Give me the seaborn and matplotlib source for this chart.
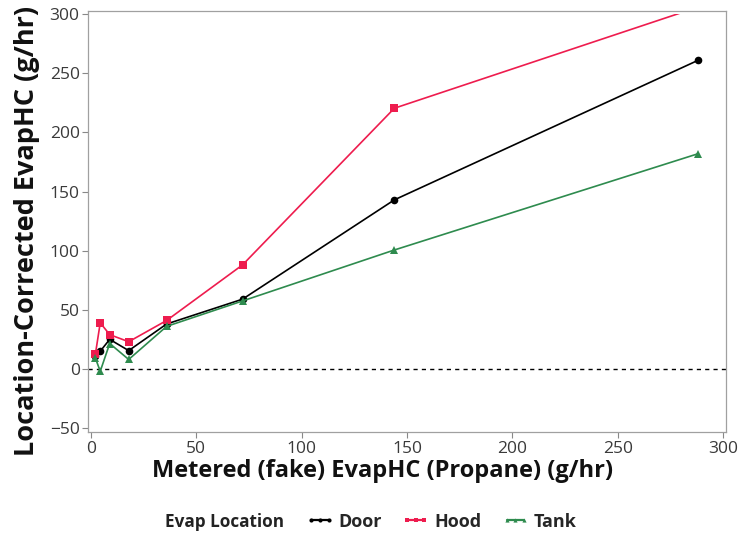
import numpy as np
import pandas as pd
import matplotlib
matplotlib.use("Agg")
import matplotlib.pyplot as plt
from matplotlib.patches import Rectangle
from matplotlib.lines import Line2D
import seaborn as sns

# Metered propane rate (g/hr) and location-corrected EvapHC readings (g/hr)
metered = [2.25, 4.5, 9, 18, 36, 72, 144, 288]
door = [11, 15, 25, 15.5, 38, 59, 143, 261]
hood = [13, 39, 29, 23, 41, 88, 220.5, 306]
tank = [9, -2, 21.5, 8, 36, 57.5, 100.6, 182]
locations = ["Door", "Hood", "Tank"]

x_ticks = [0, 50, 100, 150, 200, 250, 300]
y_ticks = [-50, 0, 50, 100, 150, 200, 250, 300]

df = pd.DataFrame({
    "Metered": metered * 3,
    "EvapHC": door + hood + tank,
    "Evap Location": sum([[loc] * len(metered) for loc in locations], []),
})

sns.set_theme(style="white")
plt.rcParams["font.family"] = ["Open Sans", "DejaVu Sans"]

palette = {"Door": "#000000", "Hood": "#EE1C4E", "Tank": "#2E8B4E"}
markers = {"Door": "o", "Hood": "s", "Tank": "^"}

fig = plt.figure(figsize=(7.4, 5.34), dpi=100)
ax = fig.add_axes([88 / 740, 1 - 432.3 / 534, (726 - 88) / 740, (432.3 - 10.7) / 534])

sns.lineplot(data=df, x="Metered", y="EvapHC", hue="Evap Location",
             style="Evap Location", markers=markers, dashes=False,
             palette=palette, hue_order=locations, style_order=locations,
             linewidth=1.2, markersize=5.5, markeredgewidth=0,
             legend=False, ax=ax)

ax.axhline(0, color="black", linestyle=(0, (3, 3)), linewidth=1.0, zorder=1)

ax.set_xlim(-1.3, 301.3)
ax.set_ylim(-53.6, 303)

# Keep curves inside the nominal 300 g/hr data range
clip = Rectangle((-1.3, -53.6), 302.6, 353.6, transform=ax.transData)
for line in ax.lines:
    line.set_clip_path(clip)

ax.set_xticks(x_ticks)
ax.set_yticks(y_ticks)
ax.tick_params(axis="both", which="major", direction="out", length=4, width=0.8,
               color="#888888", labelsize=12.5, labelcolor="#3A3A3A", pad=2,
               left=True, bottom=True)
for s in ax.spines.values():
    s.set_color("#A0A0A0")
    s.set_linewidth(0.9)

ax.set_xlabel("")
ax.set_ylabel("")
fig.text(383 / 740, 1 - 471 / 534, "Metered (fake) EvapHC (Propane) (g/hr)",
         fontsize=17, fontweight="bold", ha="center", va="center", color="#111111")
fig.text(27 / 740, 1 - 231 / 534, "Location-Corrected EvapHC (g/hr)",
         fontsize=19.5, fontweight="bold", ha="center", va="center",
         rotation=90, color="#111111")

# Inline legend at the bottom
handles = [Line2D([0], [0], color=palette[k], marker=markers[k], markersize=3,
                  markeredgewidth=0, linewidth=1.6) for k in locations]
fig.text(165 / 740, 1 - 521.7 / 534, "Evap Location", fontsize=12.3,
         fontweight="bold", va="center", ha="left", color="#222222")
fig.legend(handles, locations, loc="center left",
           bbox_to_anchor=(306 / 740, 1 - 521.7 / 534), ncol=3, frameon=False,
           numpoints=3, handlelength=1.55, handletextpad=0.25, columnspacing=1.1,
           borderpad=0, borderaxespad=0,
           prop={"size": 13, "weight": "bold"})

fig.savefig("out.png", dpi=100)
